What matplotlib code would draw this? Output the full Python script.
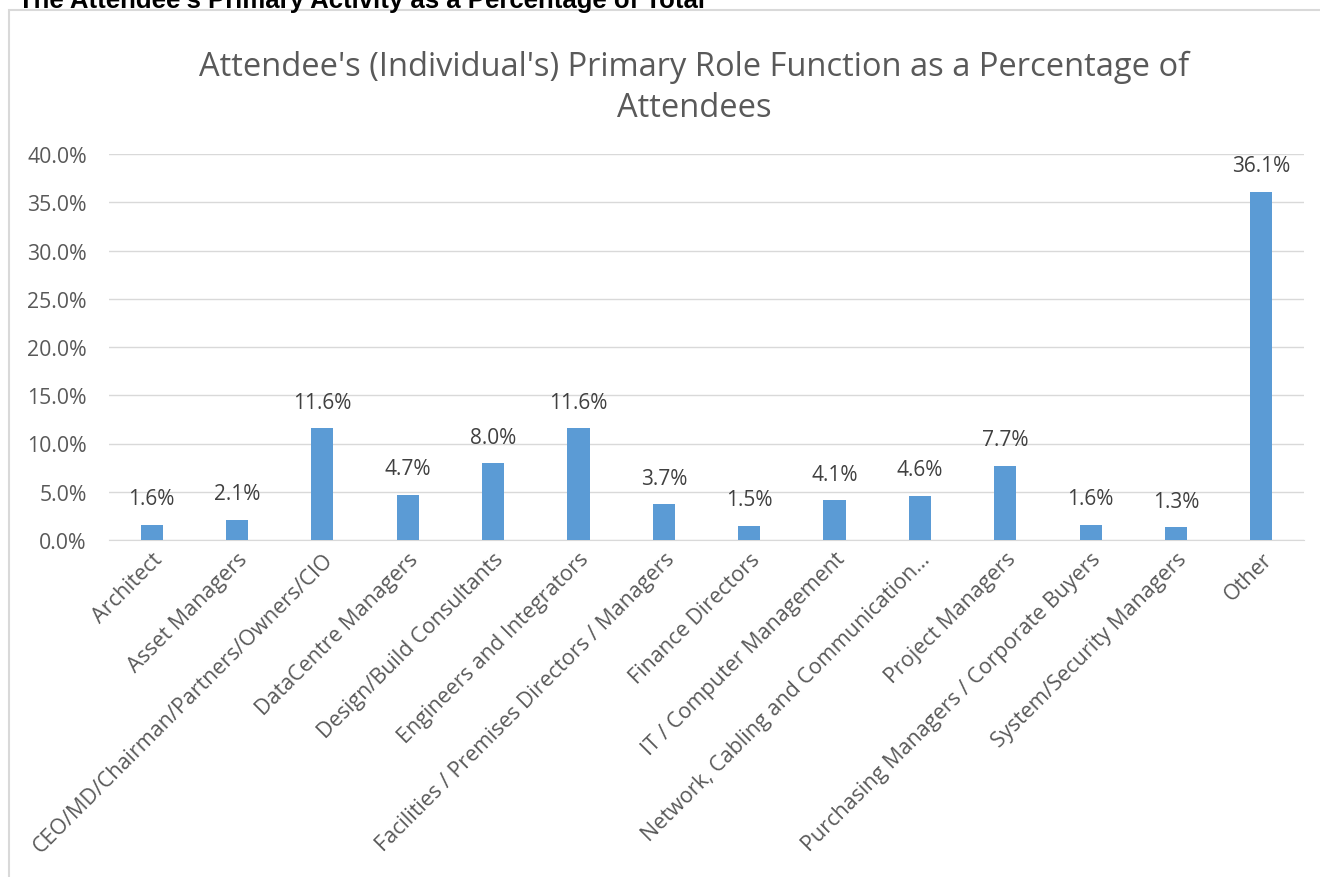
import matplotlib
matplotlib.use("Agg")
import matplotlib.pyplot as plt
from matplotlib.patches import Rectangle
from matplotlib.ticker import FuncFormatter, MultipleLocator

categories = [
    "Architect", "Asset Managers", "CEO/MD/Chairman/Partners/Owners/CIO",
    "DataCentre Managers", "Design/Build Consultants", "Engineers and Integrators",
    "Facilities / Premises Directors / Managers", "Finance Directors",
    "IT / Computer Management", "Network, Cabling and Communication…",
    "Project Managers", "Purchasing Managers / Corporate Buyers",
    "System/Security Managers", "Other",
]
values = [1.6, 2.1, 11.6, 4.7, 8.0, 11.6, 3.7, 1.5, 4.1, 4.6, 7.7, 1.6, 1.3, 36.1]

W, H = 1320, 878
fig = plt.figure(figsize=(W / 100, H / 100), dpi=100)
plt.rcParams['font.family'] = ['Open Sans', 'DejaVu Sans']

# outer chart border (extends past right and bottom edges)
fig.patches.append(Rectangle((9 / W, -0.2), 1.2, 1.2 - 11 / H, transform=fig.transFigure,
                             fill=False, edgecolor='#d9d9d9', linewidth=1.5))

# page title (cut off at top, as in the reference)
fig.text(18 / W, 1 - 8 / H, "The Attendee's Primary Activity as a Percentage of Total",
         family=['Liberation Sans'], fontweight='bold', fontsize=18.5, va='baseline',
         ha='left', color='black')

ax = fig.add_axes([109 / W, 1 - 541 / H, (1304 - 109) / W, (541 - 155) / H])
x = range(len(categories))
ax.bar(x, values, width=0.26, color='#5b9bd5', zorder=3)
ax.set_xlim(-0.5, len(categories) - 0.5)
ax.set_ylim(0, 40)
ax.yaxis.set_major_locator(MultipleLocator(5))
ax.yaxis.set_major_formatter(FuncFormatter(lambda v, p: f"{v:.1f}%"))
ax.grid(axis='y', color='#d9d9d9', linewidth=1, zorder=0)
for s in ['top', 'right', 'left']:
    ax.spines[s].set_visible(False)
ax.spines['bottom'].set_color('#d9d9d9')
ax.tick_params(axis='y', length=0, labelsize=15.3, labelcolor='#595959', pad=16)
ax.tick_params(axis='x', length=0, labelsize=15.5, labelcolor='#595959', pad=6)
ax.set_xticks(list(x))
ax.set_xticklabels(categories, rotation=45, ha='right', rotation_mode='anchor')

for xi, v in zip(x, values):
    ax.annotate(f"{v:.1f}%", (xi, v), xytext=(0, 11), textcoords='offset points',
                ha='center', va='bottom', fontsize=15, color='#404040')

fig.text(694 / W, 1 - 88 / H,
         "Attendee's (Individual's) Primary Role Function as a Percentage of\nAttendees",
         ha='center', va='center', fontsize=23.5, color='#595959', linespacing=1.3)

fig.savefig("out.png", dpi=100)
